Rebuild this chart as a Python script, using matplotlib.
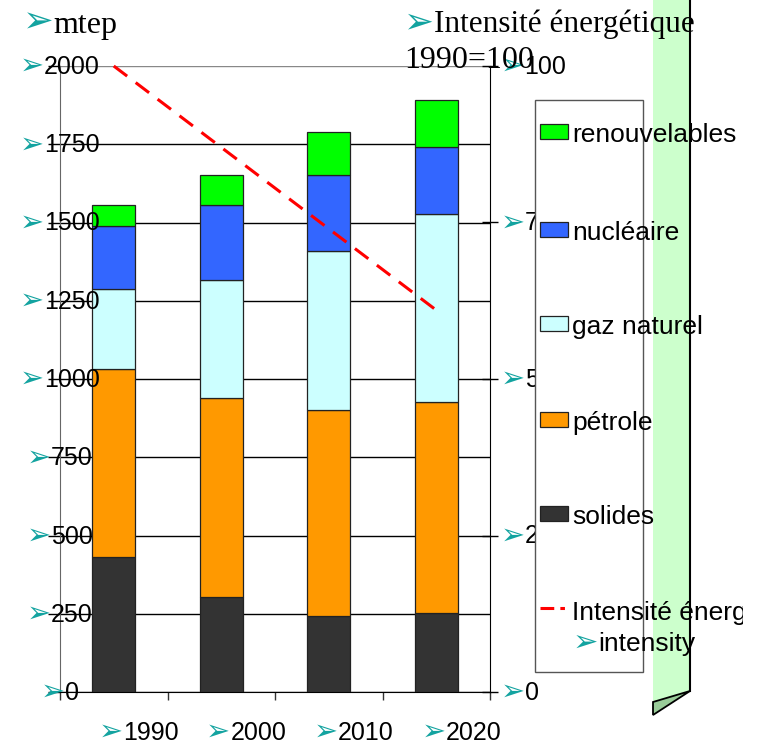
import matplotlib
matplotlib.use('Agg')
import matplotlib.pyplot as plt
import numpy as np
from matplotlib.patches import Rectangle, Polygon
from matplotlib.lines import Line2D
from matplotlib.offsetbox import TextArea, HPacker, AnnotationBbox
from matplotlib.transforms import Bbox

# data (mtep)
years = ['1990', '2000', '2010', '2020']
solides = [431, 304, 243, 252]
petrole = [601, 635, 658, 675]
gaz = [256, 377, 508, 600]
nucleaire = [201, 240, 243, 214]
renouvelables = [67, 96, 137, 150]
intensite = [100, 87, 74, 61]   # 1990 = 100

series_names = ['solides', 'pétrole', 'gaz naturel', 'nucléaire', 'renouvelables']
series_colors = ['#333333', '#ff9900', '#ccffff', '#3366ff', '#00ff00']
left_ticks = list(range(0, 2001, 250))
right_ticks = [0, 25, 50, 75, 100]

W, H = 764, 744
TEAL = '#13a3a0'
SANS = 'Liberation Sans'
SERIF = 'Liberation Serif'

fig = plt.figure(figsize=(W / 100, H / 100), dpi=100)

def fx(px):
    return px / W

def fy(py):
    return 1 - py / H

ax = fig.add_axes([fx(60), fy(692), fx(490) - fx(60), fy(66) - fy(692)])
ax2 = ax.twinx()


def bullet(parent, xy, txt, size=18, family=SANS, align=(0.5, 0.5), coords='figure pixels',
           offset=None, zorder=5):
    a = TextArea('➢', textprops=dict(color=TEAL, size=size * 1.15, family='DejaVu Sans'))
    b = TextArea(txt, textprops=dict(color='black', size=size, family=family))
    box = HPacker(children=[a, b], sep=0, pad=0, align='baseline')
    kw = {}
    if offset is not None:
        kw = dict(xybox=offset, boxcoords='offset points')
    ab = AnnotationBbox(box, xy, xycoords=coords, box_alignment=align, frameon=False,
                        pad=0, zorder=zorder, annotation_clip=False, **kw)
    ab.set_clip_on(False)
    parent.add_artist(ab)
    return ab


# stacked bars
x = np.arange(len(years))
bottom = np.zeros(len(years))
for vals, name, col in zip([solides, petrole, gaz, nucleaire, renouvelables], series_names, series_colors):
    ax.bar(x, vals, 0.4, bottom=bottom, color=col, edgecolor='#222222', linewidth=0.9, zorder=3)
    bottom += np.array(vals)

for t in left_ticks:
    ax.axhline(t, color='#888888' if t == 2000 else 'black', lw=1, zorder=1)

ax.set_xlim(-0.5, 3.5)
ax.set_ylim(0, 2000)
ax.set_yticks(left_ticks)
ax.set_xticks([-0.5, 0.5, 1.5, 2.5, 3.5])
ax.tick_params(axis='y', direction='out', length=9, width=1, color='black', labelleft=False)
ax.tick_params(axis='x', direction='out', length=6, width=1, color='#333333', labelbottom=False)
ax.spines['top'].set_visible(False)
ax.spines['right'].set_visible(False)
ax.spines['left'].set_color('#666666')
ax.spines['bottom'].set_color('black')

# intensity line
ax2.plot(x, intensite, color='red', lw=2.2, dashes=(5.5, 3.5), clip_on=False, zorder=5)
ax2.set_ylim(0, 100)
ax2.set_yticks(right_ticks)
ax2.tick_params(axis='y', direction='inout', length=11, width=1, color='black', labelright=False)
for s in ['top', 'left', 'bottom']:
    ax2.spines[s].set_visible(False)
ax2.spines['right'].set_color('black')

# tick labels with bullets
for t in left_ticks:
    bullet(ax, (0, t), str(t), coords=('axes fraction', 'data'))
for t in right_ticks:
    bullet(ax2, (1, t), str(t), coords=('axes fraction', 'data'), align=(0, 0.5),
           offset=(7.5, 0))
for i, yr in enumerate(years):
    bullet(ax, (i, 0), yr, coords=('data', 'axes fraction'), offset=(18, -28.5))

# titles
bullet(fig, (23, H - 22), 'mtep', size=23, family=SERIF, align=(0, 0.5))
bullet(fig, (404, H - 22), 'Intensité énergétique', size=22.5, family=SERIF, align=(0, 0.5), zorder=3)
fig.text(fx(404), fy(60), '1990=100', family=SERIF, size=23, ha='left', va='center', zorder=3)

# green strip on the right
fig.add_artist(Polygon([(fx(653), fy(0)), (fx(690), fy(0)), (fx(690), fy(691)), (fx(653), fy(702))],
                       closed=True, transform=fig.transFigure, facecolor='#ccffcc', edgecolor='none', zorder=1))
fig.add_artist(Polygon([(fx(653), fy(702)), (fx(690), fy(691)), (fx(653), fy(715))],
                       closed=True, transform=fig.transFigure, facecolor='#99cc99', edgecolor='black',
                       lw=1.3, zorder=1.5))
fig.add_artist(Line2D([fx(690), fx(690)], [fy(0), fy(691)], transform=fig.transFigure,
                      color='black', lw=1.5, zorder=3.5))

# legend (drawn by hand)
fig.add_artist(Rectangle((fx(535), fy(672)), fx(643) - fx(535), fy(100) - fy(672),
                         transform=fig.transFigure, facecolor='white', edgecolor='#555555',
                         lw=1, zorder=4))
leg_y = [517, 423, 327, 233, 135]
for name, col, ly in zip(series_names, series_colors, leg_y):
    fig.add_artist(Rectangle((fx(540), fy(ly + 4)), fx(568) - fx(540), fy(ly - 11) - fy(ly + 4),
                             transform=fig.transFigure, facecolor=col, edgecolor='#222222',
                             lw=0.9, zorder=5))
    fig.text(fx(572), fy(ly), name, family=SANS, size=19, ha='left', va='center', zorder=5)

fig.add_artist(Line2D([fx(540), fx(566)], [fy(608), fy(608)], transform=fig.transFigure,
                      color='red', lw=2.2, dashes=(4.5, 2, 1.5, 2), zorder=5))
t = fig.text(fx(572), fy(613), 'Intensité énergétique', family=SANS, size=19, ha='left',
             va='center', zorder=5)
t.set_clip_box(Bbox([[0, 0], [743, H]]))
t.set_clip_on(True)
bullet(fig, (573, H - 642), 'intensity', size=19, align=(0, 0.5))

fig.savefig('out.png', dpi=100)
